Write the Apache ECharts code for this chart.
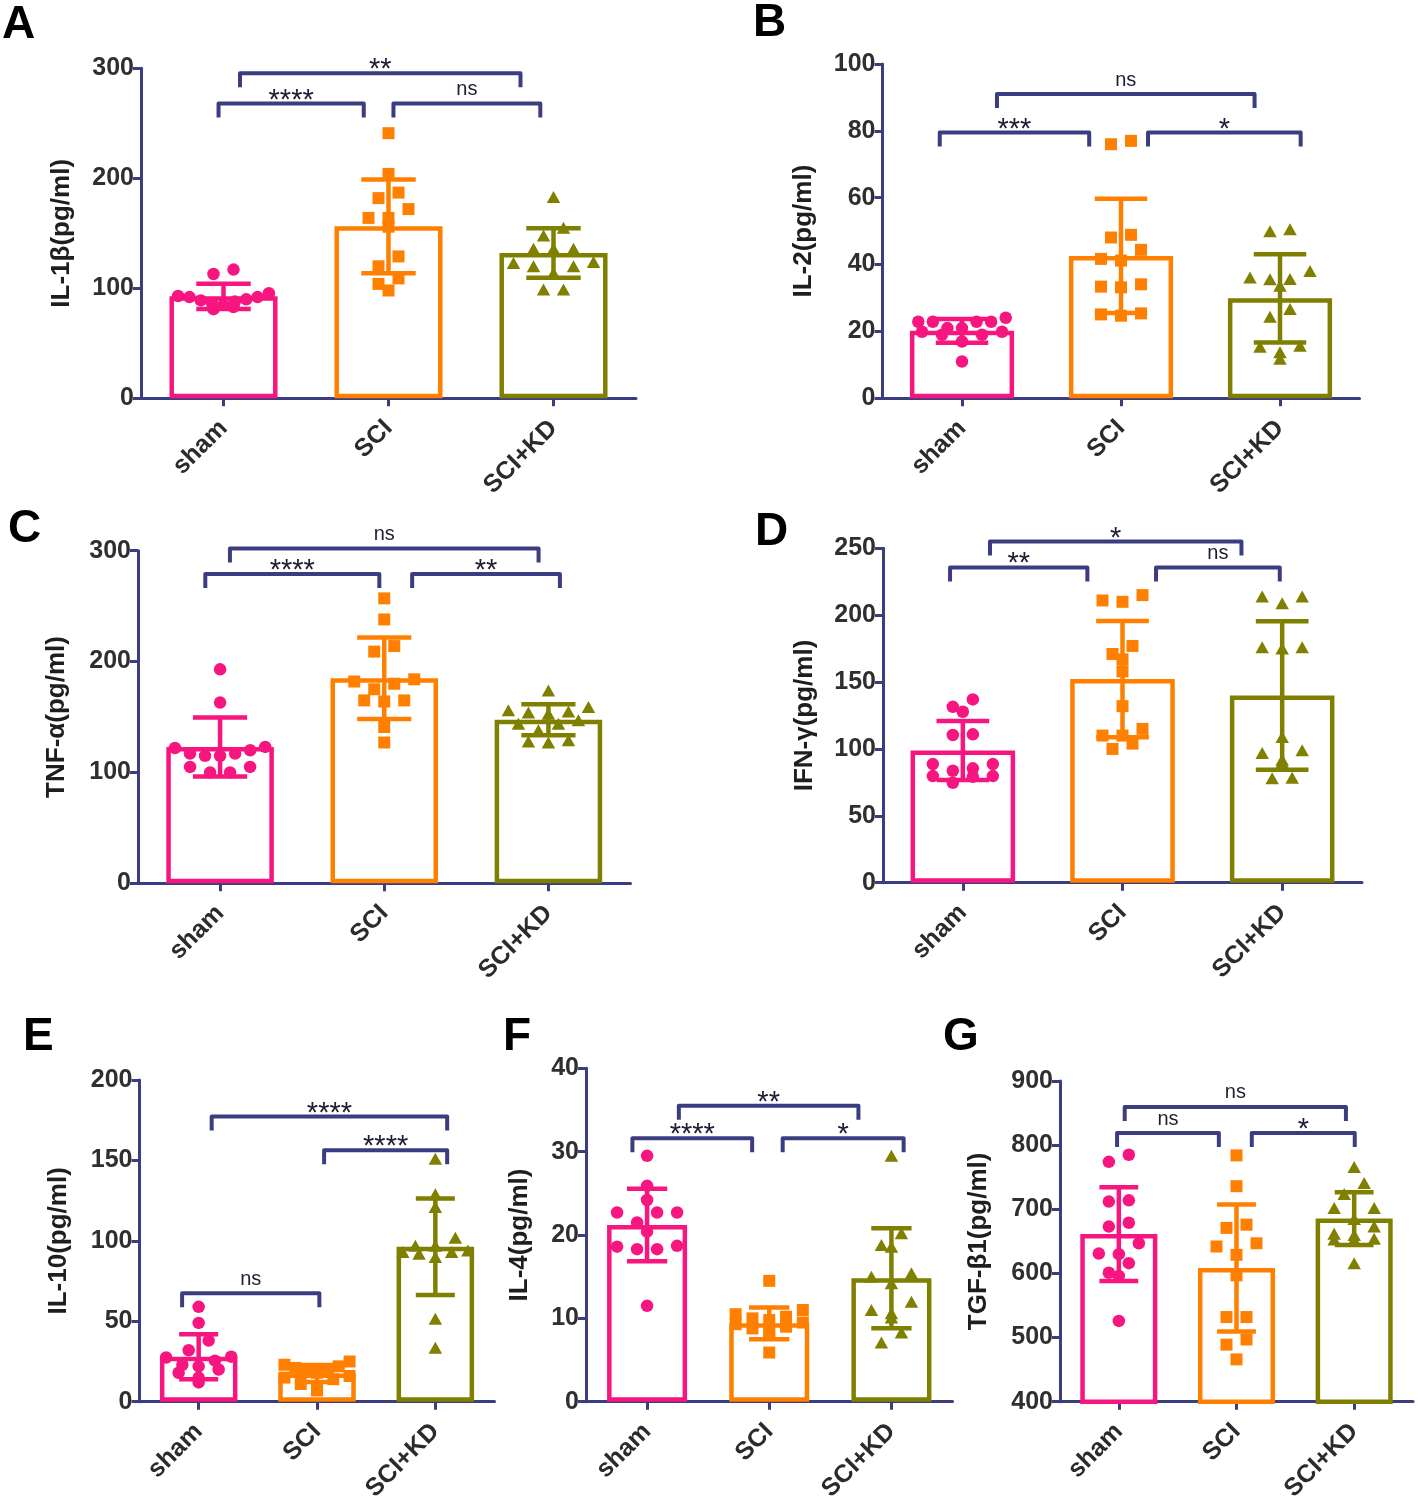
<!DOCTYPE html>
<html><head><meta charset="utf-8">
<script src="https://cdn.jsdelivr.net/npm/echarts@6/dist/echarts.min.js"></script>
<style>html,body{margin:0;padding:0;background:#fff}#c{width:1418px;height:1504px}</style>
</head><body><div id="c"></div>
<script>
// ---------------- DATA ----------------
const groups = ['sham', 'SCI', 'SCI+KD'];

// A: IL-1β
const A_sham = [117, 113, 95.5, 93, 92, 92, 90, 89, 88, 86, 85, 83, 81];
const A_SCI  = [241, 204, 187, 182, 172, 164, 164, 156, 129, 120, 109, 104, 98];
const A_KD   = [183, 155, 148, 136, 136, 136, 124, 123, 120, 120, 114, 99, 99];
const A_mean = [92.7, 156.3, 132];
const A_sd   = [11.5, 42.7, 22.5];
const A_sig  = [[0, 1, '****'], [1, 2, 'ns'], [0, 2, '**']];

// B: IL-2
const B_sham = [24.1, 22.9, 22.9, 22.9, 22.9, 21, 21, 19.9, 19.9, 19, 19, 17, 11];
const B_SCI  = [77, 76, 48.9, 48.1, 44.4, 41.7, 41.2, 34.1, 33.4, 33.2, 25.4, 25.1, 24.7];
const B_KD   = [50.6, 50, 38.1, 36.1, 35.7, 35.6, 33.7, 26.7, 24.4, 15.7, 15.4, 13.8, 11.8];
const B_mean = [20.2, 42.6, 29.9];
const B_sd   = [3.55, 17.1, 13.2];
const B_sig  = [[0, 1, '***'], [1, 2, '*'], [0, 2, 'ns']];

// C: TNF-α
const C_sham = [193, 163, 123, 122, 120, 117, 117, 115, 115, 105, 105, 100, 100];
const C_SCI  = [257, 238, 214, 209, 184, 182, 180, 175, 165, 165, 164, 141, 127];
const C_KD   = [174, 159, 156, 155, 154, 153, 147, 144, 144, 138, 129, 128, 127];
const C_mean = [123, 185, 147.5];
const C_sd   = [26.6, 36.8, 13.9];
const C_sig  = [[0, 1, '****'], [1, 2, '**'], [0, 2, 'ns']];

// D: IFN-γ
const D_sham = [137, 131.5, 127.8, 110.9, 110.4, 88.7, 88.7, 85.5, 83.7, 79.7, 79.7, 79.2, 74.7];
const D_SCI  = [215, 211, 210, 177, 171, 167, 158, 132, 115, 110, 110, 104, 100];
const D_KD   = [214, 214, 209, 176, 176, 175, 109, 99, 97, 92, 90, 78.5, 78];
const D_mean = [98.8, 152.2, 140];
const D_sd   = [22, 43.5, 55.5];
const D_sig  = [[0, 1, '**'], [1, 2, 'ns'], [0, 2, '*']];

// E: IL-10
const E_sham = [59, 49, 38, 32, 28, 27.5, 25.5, 23, 22, 20, 18, 15, 12];
const E_SCI  = [25, 23, 22, 21, 20, 19, 18, 16, 15, 14, 11, 9, 7];
const E_KD   = [151, 129, 121, 102, 97, 97, 94, 93, 93, 92, 90, 51.5, 33.6];
const E_mean = [28, 17.5, 96.3];
const E_sd   = [14, 5.3, 30];
const E_sig  = [[0, 1, 'ns'], [0, 2, '****'], [1, 2, '****']];

// F: IL-4
const F_sham = [29.5, 25.9, 24.2, 22.7, 22.7, 22.7, 21.5, 20.4, 18.7, 18.6, 18.3, 18.3, 11.5];
const F_SCI  = [14.5, 11, 10.5, 10.2, 10, 9.8, 9.5, 9.3, 9, 8.8, 8.3, 8, 5.9];
const F_KD   = [29.5, 20.2, 18.8, 18.6, 15.4, 15, 14.2, 12, 11, 10.6, 10.1, 8.3, 7.1];
const F_mean = [21.2, 9.4, 14.8];
const F_sd   = [4.35, 1.9, 6];
const F_sig  = [[0, 1, '****'], [1, 2, '*'], [0, 2, '**']];

// G: TGF-β1
const G_sham = [785, 774, 714, 712, 679, 673, 647, 631, 630, 616, 601, 596, 526];
const G_SCI  = [784, 736, 676, 671, 647, 642, 629, 597, 532, 532, 497, 489, 466];
const G_KD   = [766, 741, 724, 702, 702, 685, 673, 662, 660, 654, 653, 653, 616];
const G_mean = [661.3, 608.5, 685.5];
const G_sd   = [73, 99, 41];
const G_sig  = [[0, 1, 'ns'], [1, 2, '*'], [0, 2, 'ns']];

// ---------------- LAYOUT / STYLE ----------------
const COLORS = ['#F7157F', '#FF8000', '#808000'];
const SYMBOLS = ['circle', 'rect', 'triangle'];
const SYMSIZE = [12.5, 12, [13.5, 12]];
const NAVY = '#3A3E80';
const FONT = 'Arial, "Liberation Sans", sans-serif';

const PANELS = [
  {letter: 'A', lx: 2, ly: 2, title: 'IL-1β(pg/ml)', pts: [A_sham, A_SCI, A_KD], mean: A_mean, sd: A_sd, sig: A_sig,
   grid: {left: 141, top: 68.3, width: 495, height: 330}, min: 0, max: 300, interval: 100, gap: 66,
   br: [[-0.03, 0.85, 268], [1.03, 1.92, 268], [0.10, 1.80, 295.5]]},
  {letter: 'B', lx: 753, ly: 0, title: 'IL-2(pg/ml)', pts: [B_sham, B_SCI, B_KD], mean: B_mean, sd: B_sd, sig: B_sig,
   grid: {left: 882.5, top: 64, width: 477, height: 334.3}, min: 0, max: 100, interval: 20, gap: 66,
   br: [[-0.14, 0.80, 79.5], [1.17, 2.13, 79.5], [0.22, 1.84, 91]]},
  {letter: 'C', lx: 8, ly: 506, title: 'TNF-α(pg/ml)', pts: [C_sham, C_SCI, C_KD], mean: C_mean, sd: C_sd, sig: C_sig,
   grid: {left: 138, top: 550.7, width: 492.5, height: 332.6}, min: 0, max: 300, interval: 100, gap: 68,
   br: [[-0.09, 0.97, 279], [1.17, 2.07, 279], [0.06, 1.94, 302]]},
  {letter: 'D', lx: 755, ly: 509, title: 'IFN-γ(pg/ml)', pts: [D_sham, D_SCI, D_KD], mean: D_mean, sd: D_sd, sig: D_sig,
   grid: {left: 883, top: 548.3, width: 479, height: 334.4}, min: 0, max: 250, interval: 50, gap: 65,
   br: [[-0.08, 0.78, 235.7], [1.21, 1.985, 235.7], [0.17, 1.745, 255]]},
  {letter: 'E', lx: 23, ly: 1014, title: 'IL-10(pg/ml)', pts: [E_sham, E_SCI, E_KD], mean: E_mean, sd: E_sd, sig: E_sig,
   grid: {left: 139.5, top: 1080, width: 355, height: 327.7}, min: 0, max: 200, interval: 50, gap: 68,
   br: [[-0.14, 1.02, 67.4], [0.11, 2.10, 177.3], [1.06, 2.10, 156.3]]},
  {letter: 'F', lx: 503, ly: 1014, title: 'IL-4(pg/ml)', pts: [F_sham, F_SCI, F_KD], mean: F_mean, sd: F_sd, sig: F_sig,
   grid: {left: 586, top: 1068.3, width: 366.5, height: 336}, min: 0, max: 40, interval: 10, gap: 53,
   br: [[-0.12, 0.86, 31.6], [1.11, 2.10, 31.6], [0.26, 1.73, 35.5]]},
  {letter: 'G', lx: 943, ly: 1014, title: 'TGF-β1(pg/ml)', pts: [G_sham, G_SCI, G_KD], mean: G_mean, sd: G_sd, sig: G_sig,
   grid: {left: 1060, top: 1081, width: 353, height: 327.3}, min: 400, max: 900, interval: 100, gap: 68,
   br: [[-0.015, 0.85, 818.8], [1.13, 2.005, 818.8], [0.05, 1.93, 859.5]]}
];

// row-based scatter spreading (pixel offsets), like a column scatter plot
function swarm(values, ppu, band) {
  const order = values.map((v, i) => i).sort((a, b) => values[b] - values[a]);
  const off = new Array(values.length).fill(0);
  const rowH = 12, maxW = band * 0.55;
  let j = 0;
  while (j < order.length) {
    const start = values[order[j]];
    const row = [];
    while (j < order.length && (start - values[order[j]]) * ppu < rowH) { row.push(order[j]); j++; }
    const k = row.length;
    if (k > 1) {
      const sp = Math.min(20, maxW / (k - 1));
      const pos = [];
      for (let q = 0; q < k; q++) pos.push((q - (k - 1) / 2) * sp);
      pos.sort((a, b) => (Math.abs(a) - Math.abs(b)) || (a - b));
      const asc = row.slice().sort((a, b) => values[a] - values[b]);
      asc.forEach((idx, q) => { off[idx] = pos[q]; });
    }
  }
  return off;
}

const grids = [], xAxes = [], yAxes = [], series = [], graphics = [];

PANELS.forEach((P, i) => {
  grids.push(Object.assign({containLabel: false}, P.grid));
  xAxes.push({
    type: 'category', gridIndex: i, data: groups,
    axisLine: {show: true, onZero: false, lineStyle: {color: NAVY, width: 3}},
    axisTick: {show: true, alignWithLabel: true, length: 8, lineStyle: {color: NAVY, width: 3}},
    axisLabel: {interval: 0, rotate: 45, margin: 26, fontSize: 25, fontWeight: 'bold', color: '#2b2b2b', fontFamily: FONT},
    splitLine: {show: false}
  });
  yAxes.push({
    type: 'value', gridIndex: i, min: P.min, max: P.max, interval: P.interval,
    name: P.title, nameLocation: 'middle', nameGap: P.gap,
    nameTextStyle: {fontSize: 26, fontWeight: 'bold', color: '#1e1e1e', fontFamily: FONT},
    axisLine: {show: true, lineStyle: {color: NAVY, width: 3}},
    axisTick: {show: true, length: 8, lineStyle: {color: NAVY, width: 3}},
    axisLabel: {fontSize: 25, fontWeight: 'bold', color: '#2f2f2f', margin: 7, fontFamily: FONT},
    splitLine: {show: false}
  });

  // bars (means)
  series.push({
    type: 'bar', xAxisIndex: i, yAxisIndex: i, barWidth: '65.5%', z: 2, silent: true,
    clip: true,
    data: P.mean.map((m, k) => ({value: m, itemStyle: {color: '#ffffff', borderColor: COLORS[k], borderWidth: 4.5}}))
  });

  // error bars (mean ± SD)
  series.push({
    type: 'custom', xAxisIndex: i, yAxisIndex: i, z: 3, silent: true,
    data: P.mean.map((m, k) => [k, m, P.sd[k]]),
    renderItem: function (params, api) {
      const cat = api.value(0), m = api.value(1), s = api.value(2);
      const top = api.coord([cat, m + s]);
      const bot = api.coord([cat, m - s]);
      const hw = api.size([1, 0])[0] * 0.165;
      const col = COLORS[cat];
      const st = {stroke: col, lineWidth: 4.5};
      return {type: 'group', children: [
        {type: 'line', shape: {x1: top[0], y1: top[1], x2: bot[0], y2: bot[1]}, style: st},
        {type: 'line', shape: {x1: top[0] - hw, y1: top[1], x2: top[0] + hw, y2: top[1]}, style: st},
        {type: 'line', shape: {x1: bot[0] - hw, y1: bot[1], x2: bot[0] + hw, y2: bot[1]}, style: st}
      ]};
    }
  });

  // individual points
  const ppu = P.grid.height / (P.max - P.min);
  const band = P.grid.width / groups.length;
  P.pts.forEach((vals, k) => {
    const off = swarm(vals, ppu, band);
    series.push({
      type: 'scatter', xAxisIndex: i, yAxisIndex: i, z: 4, silent: true,
      symbol: SYMBOLS[k], symbolSize: SYMSIZE[k],
      itemStyle: {color: COLORS[k], opacity: 1},
      data: vals.map((v, j) => ({value: [k, v], symbolOffset: [off[j], 0]}))
    });
  });

  // significance brackets
  series.push({
    type: 'custom', xAxisIndex: i, yAxisIndex: i, z: 5, silent: true, clip: false,
    data: P.br.map(b => [0, b[2], b[0], b[1]]),
    renderItem: function (params, api) {
      const lvl = api.value(1), a = api.value(2), b = api.value(3);
      const base = api.coord([0, lvl]);
      const band = api.size([1, 0])[0];
      const x1 = base[0] + a * band, x2 = base[0] + b * band, y = base[1];
      const label = P.sig[params.dataIndex][2];
      const isNs = label === 'ns';
      return {type: 'group', children: [
        {type: 'polyline', shape: {points: [[x1, y + 14], [x1, y], [x2, y], [x2, y + 14]]},
         style: {stroke: NAVY, lineWidth: 4, fill: null, lineJoin: 'round'}},
        {type: 'text', style: {text: label, x: (x1 + x2) / 2, y: isNs ? y - 14 : y - 3,
          align: 'center', verticalAlign: 'middle', fill: '#1d1e33',
          font: (isNs ? '20px ' : '29px ') + FONT}}
      ]};
    }
  });

  graphics.push({type: 'text', left: P.lx, top: P.ly, silent: true,
    style: {text: P.letter, font: 'bold 46px ' + FONT, fill: '#000'}});
});

const chart = echarts.init(document.getElementById('c'), null, {renderer: 'canvas'});
chart.setOption({
  animation: false,
  backgroundColor: '#ffffff',
  grid: grids, xAxis: xAxes, yAxis: yAxes, series: series, graphic: graphics
});
</script></body></html>
